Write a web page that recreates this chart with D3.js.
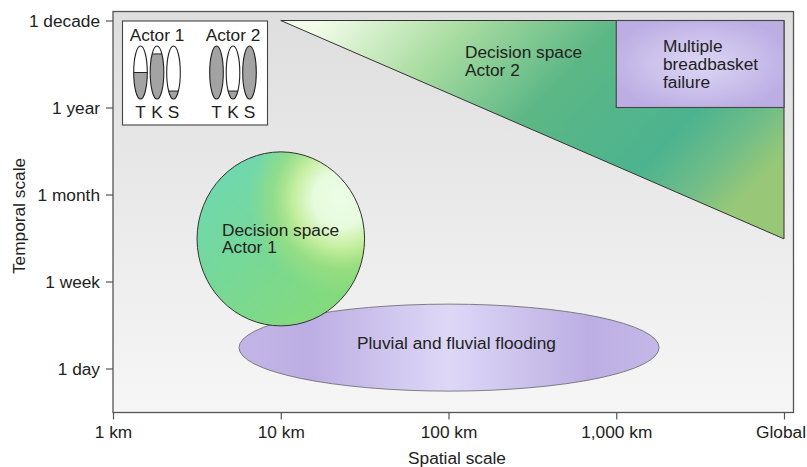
<!DOCTYPE html>
<html>
<head>
<meta charset="utf-8">
<script src="https://cdn.jsdelivr.net/npm/d3@7"></script>
<style>
body { margin: 0; background: #fff; }
text { font-family: "Liberation Sans", Arial, sans-serif; font-size: 17.3px; fill: #222; }
</style>
</head>
<body>
<div id="chart"></div>
<script>
const width = 807;
const height = 467;

// x axis: km on a log scale, "Global" sits at 10,000
const spatialTicks = [1, 10, 100, 1000, 10000];
const spatialLabels = ["1 km", "10 km", "100 km", "1,000 km", "Global"];

// y axis: evenly spaced steps, 0 = 1 day, 4 = 1 decade
const temporalTicks = [0, 1, 2, 3, 4];
const temporalLabels = ["1 day", "1 week", "1 month", "1 year", "1 decade"];

// Regions in axis units
const actor2Triangle = [[10, 4], [10000, 4], [10000, 1.49]];
const breadbasketX = [1000, 10000];
const breadbasketY = [3, 4];
const actor1CircleX = [3.17, 31.6];
const actor1CircleY = [0.49, 2.49];
const floodEllipseX = [5.64, 1800];
const floodEllipseY = [-0.26, 0.74];

// Inset: share of each oval filled per actor
const insetLetters = ["T", "K", "S"];
const actor1Shares = [0.5, 0.85, 0.15];
const actor2Shares = [1, 0.15, 1];

const x = d3.scaleLog().domain([1, 10000]).range([113, 784]);
const y = d3.scaleLinear().domain([0, 4]).range([368.5, 20.5]);

const svg = d3.select("#chart")
    .append("svg")
    .attr("width", width)
    .attr("height", height)
    .style("display", "block");

const defs = svg.append("defs");

function linearGrad(id, x1, y1, x2, y2, stops) {
    const g = defs.append("linearGradient").attr("id", id)
        .attr("x1", x1).attr("y1", y1).attr("x2", x2).attr("y2", y2);
    stops.forEach(s => g.append("stop").attr("offset", s[0]).attr("stop-color", s[1]).attr("stop-opacity", s[2] === undefined ? 1 : s[2]));
}

function radialGrad(id, cx, cy, r, stops) {
    const g = defs.append("radialGradient").attr("id", id)
        .attr("cx", cx).attr("cy", cy).attr("r", r);
    stops.forEach(s => g.append("stop").attr("offset", s[0]).attr("stop-color", s[1]).attr("stop-opacity", s[2] === undefined ? 1 : s[2]));
}

linearGrad("bg", 0, 0, 0, 1, [[0, "#dedede"], [1, "#f6f6f6"]]);
linearGrad("triFill", 0, 0.2, 1, 0.62, [
    [0, "#f2fce8"], [0.25, "#a8dca0"], [0.5, "#5cb785"], [0.78, "#4cb38f"], [0.9, "#70bd88"], [1, "#98c877"]
]);
linearGrad("circleBase", 0.1, 0.15, 0.75, 0.95, [[0, "#6fd8ae"], [0.45, "#76d898"], [1, "#84da7c"]]);
radialGrad("circleGlow", 0.86, 0.27, 0.55, [
    [0, "#ecfde6"], [0.3, "#e6fbdc"], [0.52, "#c8ef9e", 0.95], [0.75, "#a6e07c", 0.55], [1, "#a6e07c", 0]
]);
radialGrad("rectFill", 0.5, 0.5, 0.55, [[0, "#dcd6f5"], [0.55, "#cbc1ec"], [1, "#bcaee3"]]);
linearGrad("floodFill", 0, 0, 1, 0, [[0, "#c2b5e6"], [0.17, "#bcaee3"], [0.5, "#ded8f7"], [0.83, "#bcaee3"], [1, "#c4b8e8"]]);

// Plot background
svg.append("rect")
    .attr("x", 113).attr("y", 11.5).attr("width", 680.5).attr("height", 401)
    .attr("fill", "url(#bg)")
    .attr("stroke", "#555").attr("stroke-width", 1.3);

// Actor 2 decision space
svg.append("path")
    .attr("d", d3.line().x(d => x(d[0])).y(d => y(d[1])).curve(d3.curveLinearClosed)(actor2Triangle))
    .attr("fill", "url(#triFill)")
    .attr("stroke", "#333").attr("stroke-width", 1);

// Breadbasket failure
svg.append("rect")
    .attr("x", x(breadbasketX[0]))
    .attr("y", y(breadbasketY[1]))
    .attr("width", x(breadbasketX[1]) - x(breadbasketX[0]))
    .attr("height", y(breadbasketY[0]) - y(breadbasketY[1]))
    .attr("fill", "url(#rectFill)")
    .attr("stroke", "#444").attr("stroke-width", 1.1);

// Flooding ellipse goes under the circle
svg.append("ellipse")
    .attr("cx", (x(floodEllipseX[0]) + x(floodEllipseX[1])) / 2)
    .attr("cy", (y(floodEllipseY[0]) + y(floodEllipseY[1])) / 2)
    .attr("rx", (x(floodEllipseX[1]) - x(floodEllipseX[0])) / 2)
    .attr("ry", (y(floodEllipseY[0]) - y(floodEllipseY[1])) / 2)
    .attr("fill", "url(#floodFill)")
    .attr("stroke", "#666").attr("stroke-width", 0.8);

// Actor 1 decision space, two layers to fake the mesh gradient
const circleAttrs = sel => sel
    .attr("cx", (x(actor1CircleX[0]) + x(actor1CircleX[1])) / 2)
    .attr("cy", (y(actor1CircleY[0]) + y(actor1CircleY[1])) / 2)
    .attr("rx", (x(actor1CircleX[1]) - x(actor1CircleX[0])) / 2)
    .attr("ry", (y(actor1CircleY[0]) - y(actor1CircleY[1])) / 2);

svg.append("ellipse").call(circleAttrs).attr("fill", "url(#circleBase)");
svg.append("ellipse").call(circleAttrs)
    .attr("fill", "url(#circleGlow)")
    .attr("stroke", "#333").attr("stroke-width", 1);

// Axes
const gX = svg.append("g")
    .attr("transform", "translate(0,412.5)")
    .call(d3.axisBottom(x)
        .tickValues(spatialTicks)
        .tickFormat((d, i) => spatialLabels[i])
        .tickSize(7)
        .tickPadding(6));

const gY = svg.append("g")
    .attr("transform", "translate(113,0)")
    .call(d3.axisLeft(y)
        .tickValues(temporalTicks)
        .tickFormat((d, i) => temporalLabels[i])
        .tickSize(7)
        .tickPadding(6));

[gX, gY].forEach(g => {
    g.select(".domain").remove();
    g.selectAll("line").attr("stroke", "#555").attr("stroke-width", 1.2);
    g.selectAll("text").attr("fill", "#222").style("font-size", "17.3px");
});

// Nudge the last label so it stays inside the window
gX.selectAll("text").filter(d => d === 10000).attr("dx", -3.5);

svg.append("text")
    .attr("x", 457).attr("y", 464)
    .attr("text-anchor", "middle")
    .text("Spatial scale");

svg.append("text")
    .attr("transform", "translate(25,216) rotate(-90)")
    .attr("text-anchor", "middle")
    .text("Temporal scale");

// Region labels, one text element per line
function label(px, py, lines) {
    lines.forEach((line, i) => svg.append("text")
        .attr("x", px).attr("y", py + i * 17.8).text(line));
}
label(465, 58, ["Decision space", "Actor 2"]);
label(663, 52, ["Multiple", "breadbasket", "failure"]);
label(222, 235.5, ["Decision space", "Actor 1"]);
label(357, 349, ["Pluvial and fluvial flooding"]);

// Inset
svg.append("rect")
    .attr("x", 122.5).attr("y", 21).attr("width", 145).attr("height", 104)
    .attr("fill", "#fff").attr("stroke", "#444").attr("stroke-width", 1.1);

const ovalY = d3.scaleLinear().domain([0, 1]).range([99, 46]);

function drawActor(name, shares, cx) {
    const ovalX = d3.scalePoint().domain(insetLetters).range([cx - 16.5, cx + 16.5]);
    const g = svg.append("g");

    g.append("text")
        .attr("x", cx).attr("y", 41)
        .attr("text-anchor", "middle")
        .text(name);

    insetLetters.forEach((letter, i) => {
        const clipId = `clip-${name.replace(" ", "")}-${letter}`;
        const ox = ovalX(letter);
        const oy = ovalY(0.5);
        const ry = (ovalY(0) - ovalY(1)) / 2;

        defs.append("clipPath").attr("id", clipId)
            .append("rect")
            .attr("x", ox - 8)
            .attr("y", ovalY(shares[i]))
            .attr("width", 16)
            .attr("height", ovalY(0) - ovalY(shares[i]));

        g.append("ellipse")
            .attr("cx", ox).attr("cy", oy).attr("rx", 6.8).attr("ry", ry)
            .attr("fill", "#a3a3a3")
            .attr("clip-path", `url(#${clipId})`);

        g.append("ellipse")
            .attr("cx", ox).attr("cy", oy).attr("rx", 6.8).attr("ry", ry)
            .attr("fill", "none").attr("stroke", "#222").attr("stroke-width", 1.1);

        if (shares[i] < 1) {
            // level line across the oval
            const t = (ovalY(shares[i]) - oy) / ry;
            const half = 6.8 * Math.sqrt(1 - t * t);
            g.append("line")
                .attr("x1", ox - half).attr("x2", ox + half)
                .attr("y1", ovalY(shares[i])).attr("y2", ovalY(shares[i]))
                .attr("stroke", "#222").attr("stroke-width", 1);
        }

        g.append("text")
            .attr("x", ox).attr("y", 118)
            .attr("text-anchor", "middle")
            .text(letter);
    });
}
drawActor("Actor 1", actor1Shares, 157);
drawActor("Actor 2", actor2Shares, 233);
</script>
</body>
</html>
